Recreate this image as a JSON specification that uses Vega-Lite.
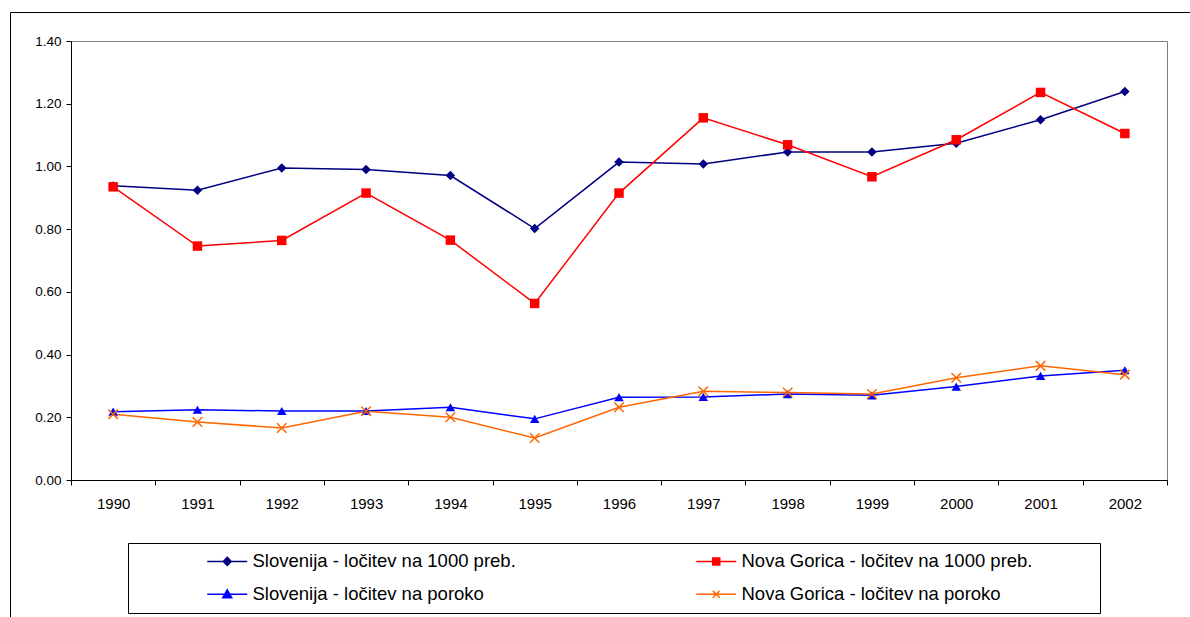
{
  "$schema": "https://vega.github.io/schema/vega-lite/v6.json",
  "width": 1096,
  "height": 439,
  "autosize": {"type": "none"},
  "padding": {"left": 71, "top": 41, "right": 23, "bottom": 137},
  "background": "white",
  "config": {
    "view": {"stroke": "#808080", "strokeWidth": 1},
    "font": "Liberation Sans"
  },
  "data": {
    "values": [
      {"year": "1990", "series": "Slovenija - ločitev na 1000 preb.", "value": 0.938},
      {"year": "1991", "series": "Slovenija - ločitev na 1000 preb.", "value": 0.924},
      {"year": "1992", "series": "Slovenija - ločitev na 1000 preb.", "value": 0.995},
      {"year": "1993", "series": "Slovenija - ločitev na 1000 preb.", "value": 0.99},
      {"year": "1994", "series": "Slovenija - ločitev na 1000 preb.", "value": 0.971},
      {"year": "1995", "series": "Slovenija - ločitev na 1000 preb.", "value": 0.802},
      {"year": "1996", "series": "Slovenija - ločitev na 1000 preb.", "value": 1.014},
      {"year": "1997", "series": "Slovenija - ločitev na 1000 preb.", "value": 1.008},
      {"year": "1998", "series": "Slovenija - ločitev na 1000 preb.", "value": 1.046},
      {"year": "1999", "series": "Slovenija - ločitev na 1000 preb.", "value": 1.046},
      {"year": "2000", "series": "Slovenija - ločitev na 1000 preb.", "value": 1.074},
      {"year": "2001", "series": "Slovenija - ločitev na 1000 preb.", "value": 1.149},
      {"year": "2002", "series": "Slovenija - ločitev na 1000 preb.", "value": 1.239},
      {"year": "1990", "series": "Nova Gorica - ločitev na 1000 preb.", "value": 0.935},
      {"year": "1991", "series": "Nova Gorica - ločitev na 1000 preb.", "value": 0.746},
      {"year": "1992", "series": "Nova Gorica - ločitev na 1000 preb.", "value": 0.764},
      {"year": "1993", "series": "Nova Gorica - ločitev na 1000 preb.", "value": 0.915},
      {"year": "1994", "series": "Nova Gorica - ločitev na 1000 preb.", "value": 0.765},
      {"year": "1995", "series": "Nova Gorica - ločitev na 1000 preb.", "value": 0.563},
      {"year": "1996", "series": "Nova Gorica - ločitev na 1000 preb.", "value": 0.915},
      {"year": "1997", "series": "Nova Gorica - ločitev na 1000 preb.", "value": 1.155},
      {"year": "1998", "series": "Nova Gorica - ločitev na 1000 preb.", "value": 1.069},
      {"year": "1999", "series": "Nova Gorica - ločitev na 1000 preb.", "value": 0.967},
      {"year": "2000", "series": "Nova Gorica - ločitev na 1000 preb.", "value": 1.085},
      {"year": "2001", "series": "Nova Gorica - ločitev na 1000 preb.", "value": 1.236},
      {"year": "2002", "series": "Nova Gorica - ločitev na 1000 preb.", "value": 1.105},
      {"year": "1990", "series": "Slovenija - ločitev na poroko", "value": 0.218},
      {"year": "1991", "series": "Slovenija - ločitev na poroko", "value": 0.224},
      {"year": "1992", "series": "Slovenija - ločitev na poroko", "value": 0.22},
      {"year": "1993", "series": "Slovenija - ločitev na poroko", "value": 0.22},
      {"year": "1994", "series": "Slovenija - ločitev na poroko", "value": 0.232},
      {"year": "1995", "series": "Slovenija - ločitev na poroko", "value": 0.195},
      {"year": "1996", "series": "Slovenija - ločitev na poroko", "value": 0.264},
      {"year": "1997", "series": "Slovenija - ločitev na poroko", "value": 0.265},
      {"year": "1998", "series": "Slovenija - ločitev na poroko", "value": 0.274},
      {"year": "1999", "series": "Slovenija - ločitev na poroko", "value": 0.27},
      {"year": "2000", "series": "Slovenija - ločitev na poroko", "value": 0.298},
      {"year": "2001", "series": "Slovenija - ločitev na poroko", "value": 0.332},
      {"year": "2002", "series": "Slovenija - ločitev na poroko", "value": 0.35},
      {"year": "1990", "series": "Nova Gorica - ločitev na poroko", "value": 0.21},
      {"year": "1991", "series": "Nova Gorica - ločitev na poroko", "value": 0.185},
      {"year": "1992", "series": "Nova Gorica - ločitev na poroko", "value": 0.166},
      {"year": "1993", "series": "Nova Gorica - ločitev na poroko", "value": 0.219},
      {"year": "1994", "series": "Nova Gorica - ločitev na poroko", "value": 0.2},
      {"year": "1995", "series": "Nova Gorica - ločitev na poroko", "value": 0.134},
      {"year": "1996", "series": "Nova Gorica - ločitev na poroko", "value": 0.232},
      {"year": "1997", "series": "Nova Gorica - ločitev na poroko", "value": 0.283},
      {"year": "1998", "series": "Nova Gorica - ločitev na poroko", "value": 0.279},
      {"year": "1999", "series": "Nova Gorica - ločitev na poroko", "value": 0.274},
      {"year": "2000", "series": "Nova Gorica - ločitev na poroko", "value": 0.326},
      {"year": "2001", "series": "Nova Gorica - ločitev na poroko", "value": 0.364},
      {"year": "2002", "series": "Nova Gorica - ločitev na poroko", "value": 0.336}
    ]
  },
  "encoding": {
    "x": {
      "field": "year",
      "type": "ordinal",
      "bandPosition": 0.5,
      "scale": {"type": "band", "paddingInner": 0, "paddingOuter": 0},
      "axis": {
        "title": null,
        "labelAngle": 0,
        "labelFontSize": 15,
        "labelColor": "#000",
        "labelFont": "Liberation Sans",
        "tickBand": "extent",
        "tickSize": 5,
        "tickColor": "#000",
        "domainColor": "#000",
        "labelPadding": 11,
        "grid": false
      }
    },
    "y": {
      "field": "value",
      "type": "quantitative",
      "scale": {"domain": [0, 1.4], "nice": false, "zero": true},
      "axis": {
        "title": null,
        "values": [0, 0.2, 0.4, 0.6, 0.8, 1.0, 1.2, 1.4],
        "format": ".2f",
        "labelFontSize": 13.5,
        "labelColor": "#000",
        "labelFont": "Liberation Sans",
        "tickSize": 5,
        "tickColor": "#000",
        "domainColor": "#000",
        "labelPadding": 5,
        "grid": false
      }
    },
    "color": {
      "field": "series",
      "type": "nominal",
      "scale": {
        "domain": ["Slovenija - ločitev na 1000 preb.", "Slovenija - ločitev na poroko", "Nova Gorica - ločitev na 1000 preb.", "Nova Gorica - ločitev na poroko"],
        "range": ["#000080", "#0000FF", "#FF0000", "#FF6600"]
      },
      "legend": {
        "title": "\u00a0",
        "titleOrient": "right",
        "titlePadding": 58,
        "titleFontSize": 11,
        "orient": "none",
        "legendX": 57,
        "legendY": 502,
        "columns": 2,
        "columnPadding": 110,
        "rowPadding": 14,
        "padding": 9,
        "strokeColor": "#000",
        "fillColor": "white",
        "symbolSize": 100,
        "symbolStrokeWidth": 1.5,
        "symbolOffset": 81,
        "labelOffset": 16,
        "labelFontSize": 18.5,
        "labelFont": "Liberation Sans",
        "labelColor": "#000",
        "labelLimit": 0,
        "encode": {
          "symbols": {
            "update": {
              "shape": {"signal": "datum.value === 'Slovenija - ločitev na 1000 preb.' ? 'M-4,0H4M0,-0.8L0.8,0L0,0.8L-0.8,0Z' : datum.value === 'Nova Gorica - ločitev na 1000 preb.' ? 'M-4,0H4M-0.7,-0.7H0.7V0.7H-0.7Z' : datum.value === 'Slovenija - ločitev na poroko' ? 'M-4,0H4M0,-0.9L0.9,0.7H-0.9Z' : 'M-4,0H4M-0.7,-0.7L0.7,0.7M-0.7,0.7L0.7,-0.7'"},
              "fill": {"scale": "color", "field": "value"},
              "fillOpacity": {"signal": "datum.value === 'Nova Gorica - ločitev na poroko' ? 0 : 1"},
              "stroke": {"scale": "color", "field": "value"},
              "strokeWidth": {"value": 1.5},
              "opacity": {"value": 1}
            }
          }
        }
      }
    }
  },
  "layer": [
    {"mark": {"type": "line", "strokeWidth": 1.5}},
    {
      "transform": [{"filter": "datum.series !== 'Nova Gorica - ločitev na poroko'"}],
      "mark": {"type": "point", "filled": true, "opacity": 1, "size": 90},
      "encoding": {
        "shape": {
          "field": "series",
          "type": "nominal",
          "scale": {
            "domain": ["Slovenija - ločitev na 1000 preb.", "Nova Gorica - ločitev na 1000 preb.", "Slovenija - ločitev na poroko"],
            "range": ["diamond", "square", "triangle-up"]
          },
          "legend": null
        }
      }
    },
    {
      "transform": [{"filter": "datum.series === 'Nova Gorica - ločitev na poroko'"}],
      "mark": {"type": "point", "filled": false, "size": 90, "strokeWidth": 1.5, "shape": "M-1,-1L1,1M-1,1L1,-1"},
      "encoding": {
        "opacity": {
          "datum": "frame",
          "type": "ordinal",
          "scale": {"domain": ["frame"], "range": [1]},
          "legend": {
            "orient": "none",
            "legendX": -61,
            "legendY": -29,
            "padding": 640,
            "strokeColor": "#000",
            "title": null,
            "symbolOpacity": 0,
            "labelExpr": "''",
            "encode": {"symbols": {"update": {"opacity": {"value": 0}}}}
          }
        }
      }
    }
  ]
}
